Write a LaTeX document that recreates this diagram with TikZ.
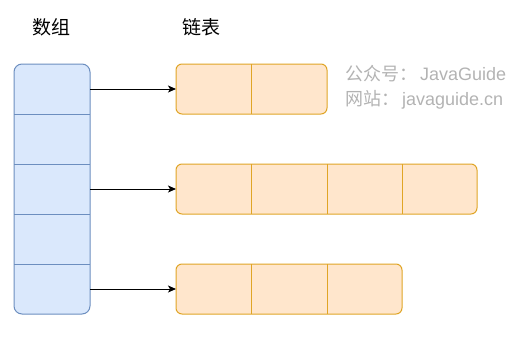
\documentclass[tikz,border=0pt]{standalone}
\usepackage{fontspec}
\newfontfamily\cjk{Noto Sans CJK SC}
\newfontfamily\lat{Liberation Sans}
\usetikzlibrary{arrows.meta}
\definecolor{arrfill}{HTML}{DAE8FC}
\definecolor{arrline}{HTML}{6C8EBF}
\definecolor{lstfill}{HTML}{FFE6CC}
\definecolor{lstline}{HTML}{E0A526}
\definecolor{wm}{HTML}{B3B3B3}
\begin{document}
\begin{tikzpicture}[x=1pt,y=-1pt,
  arrbox/.style={draw=arrline,fill=arrfill,line width=1pt,rounded corners=8pt,inner sep=0pt,outer sep=0pt,minimum width=76pt,minimum height=250pt},
  lstbox/.style={draw=lstline,fill=lstfill,line width=1pt,rounded corners=6pt,inner sep=0pt,outer sep=0pt,minimum height=50pt},
  arrdiv/.style={draw=arrline,line width=1pt},
  lstdiv/.style={draw=lstline,line width=1pt},
  link/.style={draw=black,line width=1pt,-{Stealth[length=8pt,width=7pt,inset=2pt]}},
  title/.style={font=\cjk\fontsize{19}{22}\selectfont,text=black,inner sep=0pt},
  wmark/.style={font=\cjk\fontsize{18}{22}\selectfont,text=wm,inner sep=0pt,anchor=base west}]
\useasboundingbox (0,0) rectangle (528,343);
\node[title] (t1) at (51,27) {数组};
\node[title] (t2) at (201,27) {链表};
\node[wmark] (w1) at (345,80) {公众号：\,{\lat JavaGuide}};
\node[wmark] (w2) at (345,105) {网站：\,{\lat javaguide.cn}};
% array
\node[arrbox] (A) at (52,189) {};
\foreach \yy in {114,164,214,264} \draw[arrdiv] (14,\yy) -- (90,\yy);
% lists
\node[lstbox,minimum width=151pt] (L1) at (251.5,89) {};
\draw[lstdiv] (251,64) -- (251,114);
\node[lstbox,minimum width=301pt] (L2) at (326.5,189) {};
\foreach \xx in {251,327,402} \draw[lstdiv] (\xx,164) -- (\xx,214);
\node[lstbox,minimum width=226pt] (L3) at (289,289) {};
\foreach \xx in {251,327} \draw[lstdiv] (\xx,264) -- (\xx,314);
% links
\draw[link] (A.east |- L1.west) -- (L1.west);
\draw[link] (A.east |- L2.west) -- (L2.west);
\draw[link] (A.east |- L3.west) -- (L3.west);
\end{tikzpicture}
\end{document}
